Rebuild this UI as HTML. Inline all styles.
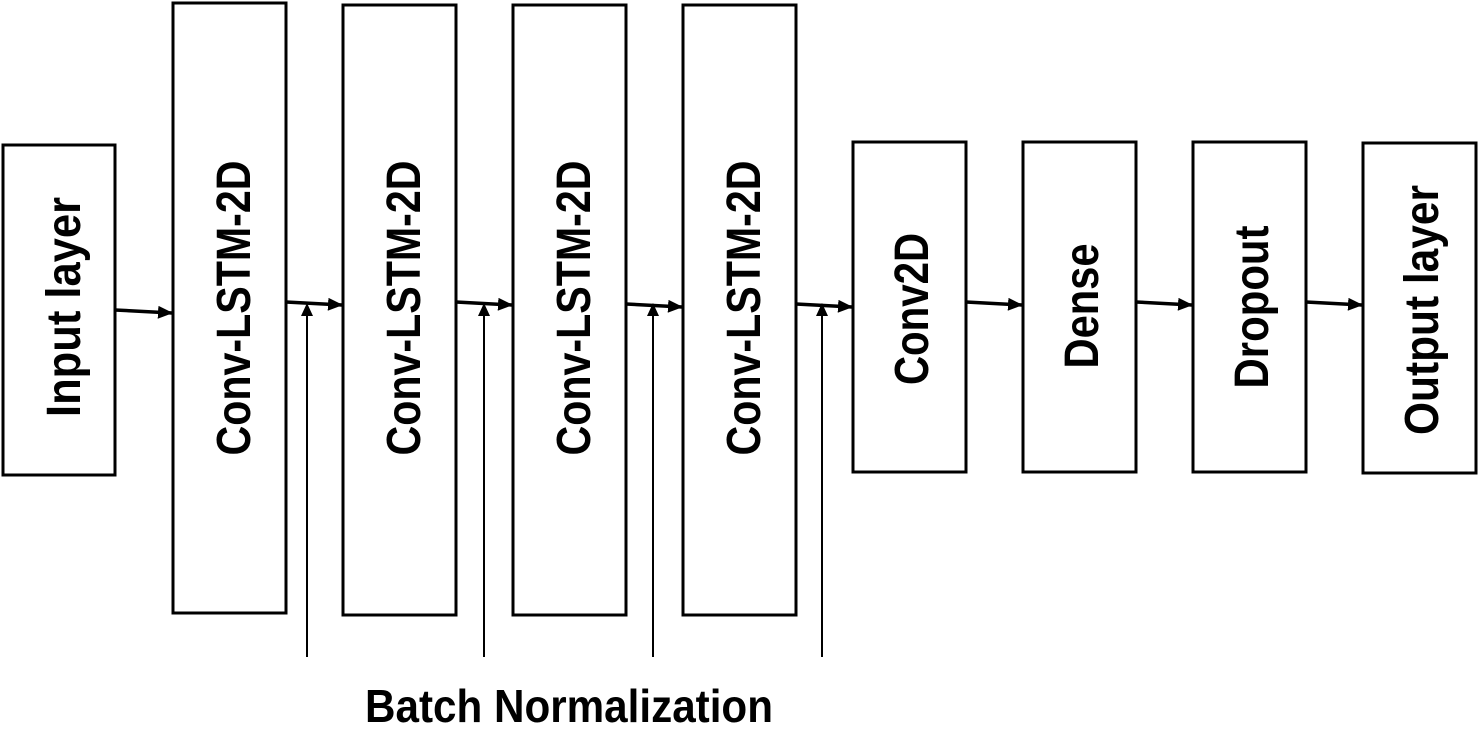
<!DOCTYPE html>
<html><head><style>body{margin:0;background:#fff}svg{display:block}</style></head><body>
<svg width="1478" height="750" viewBox="0 0 1478 750" xmlns="http://www.w3.org/2000/svg" font-family="Liberation Sans, sans-serif" font-weight="bold">
<defs><marker id="a" markerWidth="15" markerHeight="13" refX="14" refY="6.5" orient="auto" markerUnits="userSpaceOnUse"><path d="M0,0 L15,6.5 L0,13z" fill="#000"/></marker></defs>
<g fill="none" stroke="#000" stroke-width="3">
<rect x="3" y="145" width="112" height="330"/>
<rect x="173" y="3" width="113" height="610"/>
<rect x="343" y="5" width="113" height="610"/>
<rect x="513" y="5" width="113" height="610"/>
<rect x="683" y="5" width="113" height="610"/>
<rect x="853" y="142" width="113" height="330"/>
<rect x="1023" y="142" width="113" height="330"/>
<rect x="1193" y="142" width="113" height="330"/>
<rect x="1363" y="143" width="113" height="330"/>
</g>
<g stroke="#000" stroke-width="3.5" marker-end="url(#a)">
<line x1="115" y1="310" x2="172" y2="313"/>
<line x1="286" y1="302" x2="342" y2="305"/>
<line x1="456" y1="302" x2="512" y2="305"/>
<line x1="626" y1="304" x2="682" y2="307"/>
<line x1="796" y1="304" x2="852" y2="307"/>
<line x1="966" y1="302" x2="1022" y2="305"/>
<line x1="1136" y1="302" x2="1192" y2="305"/>
<line x1="1306" y1="302" x2="1362" y2="305"/>
</g>
<g stroke="#000" stroke-width="2">
<line x1="307" y1="657" x2="307" y2="312"/>
<line x1="484" y1="657" x2="484" y2="312"/>
<line x1="653" y1="657" x2="653" y2="312"/>
<line x1="822" y1="657" x2="822" y2="312"/>
</g>
<g fill="#000">
<path d="M307,303 L301,316 L313,316z"/>
<path d="M484,303 L478,316 L490,316z"/>
<path d="M653,303 L647,316 L659,316z"/>
<path d="M822,303 L816,316 L828,316z"/>
</g>
<g font-size="48" text-anchor="middle" fill="#000">
<text transform="translate(80,307) rotate(-90)" textLength="220" lengthAdjust="spacingAndGlyphs">Input layer</text>
<text transform="translate(250,308) rotate(-90)" textLength="295" lengthAdjust="spacingAndGlyphs">Conv-LSTM-2D</text>
<text transform="translate(420,308) rotate(-90)" textLength="295" lengthAdjust="spacingAndGlyphs">Conv-LSTM-2D</text>
<text transform="translate(590,308) rotate(-90)" textLength="295" lengthAdjust="spacingAndGlyphs">Conv-LSTM-2D</text>
<text transform="translate(760,308) rotate(-90)" textLength="295" lengthAdjust="spacingAndGlyphs">Conv-LSTM-2D</text>
<text transform="translate(928,309) rotate(-90)" textLength="152" lengthAdjust="spacingAndGlyphs">Conv2D</text>
<text transform="translate(1098,306) rotate(-90)" textLength="125" lengthAdjust="spacingAndGlyphs">Dense</text>
<text transform="translate(1268,307) rotate(-90)" textLength="163" lengthAdjust="spacingAndGlyphs">Dropout</text>
<text transform="translate(1438,310) rotate(-90)" textLength="250" lengthAdjust="spacingAndGlyphs">Output layer</text>
</g>
<text x="569" y="722" font-size="46" text-anchor="middle" textLength="408" lengthAdjust="spacingAndGlyphs" fill="#000">Batch Normalization</text>
</svg>
</body></html>
